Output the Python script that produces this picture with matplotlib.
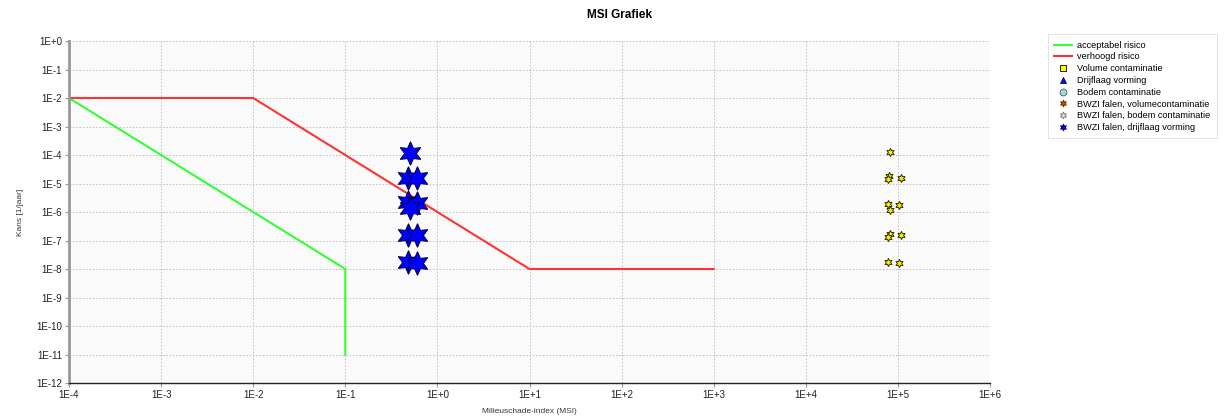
import matplotlib
matplotlib.use("Agg")
import matplotlib.pyplot as plt
from matplotlib.ticker import FixedLocator, FixedFormatter

# risk boundary lines
acceptabel_x = [1e-4, 1e-1, 1e-1]
acceptabel_y = [1e-2, 1e-8, 1e-11]
verhoogd_x = [1e-4, 1e-2, 1e1, 1e3]
verhoogd_y = [1e-2, 1e-2, 1e-8, 1e-8]

# BWZI falen, drijflaag vorming (blue stars)
drijflaag_x = [0.5, 0.48, 0.6, 0.48, 0.6, 0.5, 0.48, 0.6, 0.48, 0.6]
drijflaag_y = [1.2e-4, 1.6e-5, 1.6e-5, 2.2e-6, 2.0e-6, 1.4e-6, 1.6e-7, 1.6e-7, 1.7e-8, 1.6e-8]

# small yellow markers
bodem_x = [8.1e4, 8.0e4, 7.8e4, 1.07e5, 7.8e4, 8.1e4, 1.02e5, 8.1e4, 7.8e4, 1.07e5, 7.8e4, 1.02e5]
bodem_y = [1.3e-4, 1.8e-5, 1.4e-5, 1.6e-5, 1.9e-6, 1.2e-6, 1.8e-6, 1.7e-7, 1.3e-7, 1.6e-7, 1.8e-8, 1.6e-8]

legend_labels = [
    "acceptabel risico",
    "verhoogd risico",
    "Volume contaminatie",
    "Drijflaag vorming",
    "Bodem contaminatie",
    "BWZI falen, volumecontaminatie",
    "BWZI falen, bodem contaminatie",
    "BWZI falen, drijflaag vorming",
]

x_ticks = [10.0 ** e for e in range(-4, 7)]
x_labels = ["1E-4", "1E-3", "1E-2", "1E-1", "1E+0", "1E+1", "1E+2", "1E+3", "1E+4", "1E+5", "1E+6"]
y_ticks = [10.0 ** e for e in range(-12, 1)]
y_labels = ["1E-12", "1E-11", "1E-10", "1E-9", "1E-8", "1E-7", "1E-6", "1E-5", "1E-4", "1E-3", "1E-2", "1E-1", "1E+0"]

plt.rcParams["font.family"] = ["Liberation Sans", "DejaVu Sans"]

fig = plt.figure(figsize=(12.25, 4.16), dpi=100)
ax = fig.add_axes([0.0563, 0.0793, 0.7519, 0.8221])
ax.set_facecolor("#fafafa")

star6 = (6, 1, 0)

ax.plot(acceptabel_x, acceptabel_y, color="#33ff33", lw=1.5, label=legend_labels[0])
ax.plot(verhoogd_x, verhoogd_y, color="#ff3333", lw=1.5, label=legend_labels[1])

# legend-only entries
ax.plot([], [], ls="none", marker="s", ms=5, mfc="#ffff00", mec="black", mew=0.6, label=legend_labels[2])
ax.plot([], [], ls="none", marker="^", ms=5, mfc="#1010cc", mec="#000080", mew=0.6, label=legend_labels[3])
ax.plot([], [], ls="none", marker="o", ms=5, mfc="#99dddd", mec="#555555", mew=0.6, label=legend_labels[4])
ax.plot([], [], ls="none", marker=star6, ms=5, mfc="#cc4400", mec="#663300", mew=0.6, label=legend_labels[5])
ax.plot([], [], ls="none", marker=star6, ms=5, mfc="#dddddd", mec="#777777", mew=0.6, label=legend_labels[6])
ax.plot([], [], ls="none", marker=star6, ms=5, mfc="#0000ff", mec="#000066", mew=0.6, label=legend_labels[7])

ax.plot(drijflaag_x, drijflaag_y, ls="none", marker=star6, ms=17,
        mfc="#0000ff", mec="#000044", mew=0.7, label="_nolegend_", zorder=4)
ax.plot(bodem_x, bodem_y, ls="none", marker=star6, ms=6,
        mfc="#ffee00", mec="#333300", mew=0.7, label="_nolegend_", zorder=4)

ax.set_xscale("log")
ax.set_yscale("log")
ax.set_xlim(1e-4, 1e6)
ax.set_ylim(1e-12, 1)
ax.xaxis.set_major_locator(FixedLocator(x_ticks))
ax.xaxis.set_major_formatter(FixedFormatter(x_labels))
ax.yaxis.set_major_locator(FixedLocator(y_ticks))
ax.yaxis.set_major_formatter(FixedFormatter(y_labels))
ax.xaxis.set_minor_locator(FixedLocator([]))
ax.yaxis.set_minor_locator(FixedLocator([]))
ax.tick_params(labelsize=7, length=3, color="#999999", pad=2, labelcolor="#222222")

ax.grid(True, which="major", color="#bbbbbb", ls=(0, (2, 2)), lw=0.6)

for side in ["top", "right"]:
    ax.spines[side].set_visible(False)
ax.spines["left"].set_color("#999999")
ax.spines["left"].set_linewidth(2)
ax.spines["bottom"].set_color("#222222")
ax.spines["bottom"].set_linewidth(1)

ax.set_xlabel("Milieuschade-index (MSI)", fontsize=6, color="#333344", labelpad=6)
ax.set_ylabel("Kans [1/jaar]", fontsize=6, color="#333344", labelpad=9)
fig.text(0.5057, 0.963, "MSI Grafiek", ha="center", va="center", fontsize=8.5, fontweight="bold")

leg = ax.legend(loc="upper left", bbox_to_anchor=(1.0575, 1.033), fontsize=6.6, frameon=True,
                fancybox=False, edgecolor="#dddddd", handlelength=2.0, borderpad=0.7,
                labelspacing=0.3, handletextpad=0.5)
leg.get_frame().set_linewidth(0.8)

fig.savefig("out.png", dpi=100)
